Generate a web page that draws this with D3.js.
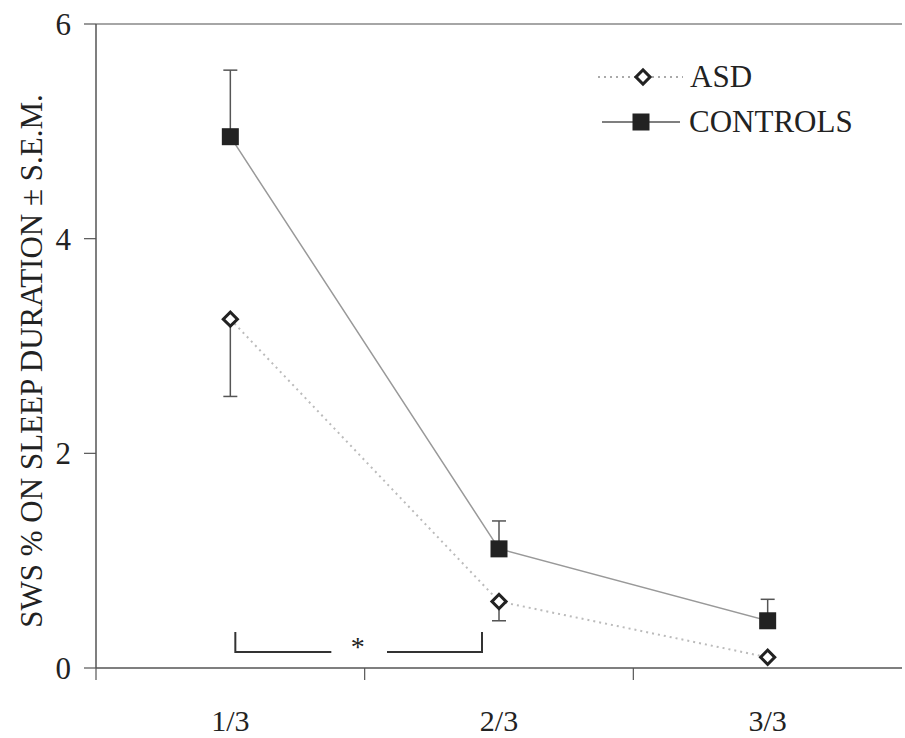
<!DOCTYPE html>
<html>
<head>
<style>
  body { margin: 0; background: #fff; }
</style>
</head>
<body>
<div id="graph_div"></div>
<script src="https://cdn.jsdelivr.net/npm/d3@7"></script>
<script>
// data
var categories = ["1/3", "2/3", "3/3"];
var controlsMean = [4.95, 1.11, 0.44];
var controlsSem  = [0.62, 0.26, 0.20];
var asdMean = [3.25, 0.62, 0.10];
var asdSem  = [0.72, 0.18, 0.0];
var yTicks = [0, 2, 4, 6];

var serif = "'Liberation Serif', 'Times New Roman', serif";

var margin = {top: 24, right: 3, bottom: 70, left: 96},
    width = 905 - margin.left - margin.right,
    height = 738 - margin.top - margin.bottom;

var svg = d3.select("#graph_div").append("svg")
    .attr("width", 905).attr("height", 738)
    .style("font-family", serif)
  .append("g")
    .attr("transform", "translate(" + margin.left + "," + margin.top + ")");

var x = d3.scaleBand().domain(categories).range([0, width]);
var y = d3.scaleLinear().domain([0, 6]).range([height, 0]);
var cx = function(d, i) { return x(categories[i]) + x.bandwidth() / 2; };

// top frame line
svg.append("line")
  .attr("x1", 0).attr("x2", width).attr("y1", 0).attr("y2", 0)
  .attr("stroke", "#888").attr("stroke-width", 1.5);

// x axis
var xAxis = svg.append("g").attr("transform", "translate(0," + height + ")");
xAxis.append("line").attr("x1", 0).attr("x2", width)
  .attr("stroke", "#555").attr("stroke-width", 1.5);
xAxis.selectAll(".tk").data(categories.slice(1)).enter().append("line")
  .attr("x1", function(d) { return x(d); }).attr("x2", function(d) { return x(d); })
  .attr("y1", 0).attr("y2", 12).attr("stroke", "#555").attr("stroke-width", 1.2);
xAxis.append("line").attr("x1", 0).attr("x2", 0).attr("y1", 0).attr("y2", 12)
  .attr("stroke", "#555").attr("stroke-width", 1.2);
xAxis.selectAll(".lb").data(categories).enter().append("text")
  .attr("x", function(d) { return x(d) + x.bandwidth() / 2; })
  .attr("y", 63).attr("text-anchor", "middle").attr("font-size", "30px")
  .attr("font-family", serif).attr("fill", "#222")
  .text(function(d) { return d; });

// y axis
var yAxis = svg.append("g");
yAxis.append("line").attr("x1", 0).attr("x2", 0).attr("y1", 0).attr("y2", height)
  .attr("stroke", "#555").attr("stroke-width", 1.5);
yAxis.selectAll(".tk").data(yTicks).enter().append("line")
  .attr("x1", -12).attr("x2", 0)
  .attr("y1", function(d) { return y(d); }).attr("y2", function(d) { return y(d); })
  .attr("stroke", "#555").attr("stroke-width", 1.2);
yAxis.selectAll(".lb").data(yTicks).enter().append("text")
  .attr("x", -25).attr("y", function(d) { return y(d); })
  .attr("dy", "0.35em").attr("text-anchor", "end").attr("font-size", "31px")
  .attr("font-family", serif).attr("fill", "#222")
  .text(function(d) { return d; });

svg.append("text")
  .attr("transform", "rotate(-90)")
  .attr("x", -(y(0) + y(6)) / 2 - 15).attr("y", -54)
  .attr("text-anchor", "middle").attr("font-size", "31px")
  .attr("font-family", serif).attr("fill", "#222")
  .text("SWS % ON SLEEP DURATION ± S.E.M.");

// lines
var lineGen = d3.line().x(function(d, i) { return cx(d, i); }).y(function(d) { return y(d); });
svg.append("path").datum(asdMean).attr("d", lineGen)
  .attr("fill", "none").attr("stroke", "#bbb").attr("stroke-width", 2)
  .attr("stroke-dasharray", "2,4");
svg.append("path").datum(controlsMean).attr("d", lineGen)
  .attr("fill", "none").attr("stroke", "#999").attr("stroke-width", 1.5);

// error bars: controls up, ASD down
function errBars(mean, sem, dir) {
  var g = svg.append("g");
  mean.forEach(function(m, i) {
    if (sem[i] <= 0) return;
    var x0 = cx(m, i), y0 = y(m), y1 = y(m + dir * sem[i]);
    g.append("line").attr("x1", x0).attr("x2", x0).attr("y1", y0).attr("y2", y1)
      .attr("stroke", "#555").attr("stroke-width", 1.5);
    g.append("line").attr("x1", x0 - 7).attr("x2", x0 + 7).attr("y1", y1).attr("y2", y1)
      .attr("stroke", "#555").attr("stroke-width", 1.5);
  });
}
errBars(controlsMean, controlsSem, 1);
errBars(asdMean, asdSem, -1);

// markers
var sq = 17;
svg.selectAll(".sq").data(controlsMean).enter().append("rect")
  .attr("x", function(d, i) { return cx(d, i) - sq / 2; })
  .attr("y", function(d) { return y(d) - sq / 2; })
  .attr("width", sq).attr("height", sq).attr("fill", "#222");
var diamond = d3.symbol().type(d3.symbolSquare).size(100);
svg.selectAll(".dm").data(asdMean).enter().append("path")
  .attr("d", diamond)
  .attr("transform", function(d, i) { return "translate(" + cx(d, i) + "," + y(d) + ") rotate(45)"; })
  .attr("fill", "#fff").attr("stroke", "#222").attr("stroke-width", 3);

// significance bracket between 1/3 and 2/3
var bx1 = cx(0, 0) + 5, bx2 = cx(0, 1) - 17, by = y(0) - 16;
var br = svg.append("g").attr("stroke", "#333").attr("stroke-width", 2).attr("fill", "none");
br.append("path").attr("d", "M" + bx1 + "," + (by - 20) + "V" + by + "H" + (bx1 + 96));
br.append("path").attr("d", "M" + (bx2 - 95) + "," + by + "H" + bx2 + "V" + (by - 20));
svg.append("text").attr("x", (bx1 + bx2) / 2 - 1).attr("y", by + 4)
  .attr("text-anchor", "middle").attr("font-size", "28px")
  .attr("font-family", serif).attr("fill", "#222").text("*");

// legend
var lg = svg.append("g").attr("transform", "translate(" + (598 - margin.left) + "," + (77 - margin.top) + ")");
lg.append("line").attr("x1", 0).attr("x2", 85).attr("y1", 0).attr("y2", 0)
  .attr("stroke", "#aaa").attr("stroke-width", 2).attr("stroke-dasharray", "2,4");
lg.append("path").attr("d", diamond)
  .attr("transform", "translate(45,0) rotate(45)")
  .attr("fill", "#fff").attr("stroke", "#222").attr("stroke-width", 3);
lg.append("text").attr("x", 92).attr("y", 0).attr("dy", "0.33em")
  .attr("font-size", "31px").attr("font-family", serif).attr("fill", "#222").text("ASD");
lg.append("line").attr("x1", 4).attr("x2", 82).attr("y1", 45).attr("y2", 45)
  .attr("stroke", "#555").attr("stroke-width", 1.5);
lg.append("rect").attr("x", 43 - sq / 2).attr("y", 45 - sq / 2).attr("width", sq).attr("height", sq).attr("fill", "#222");
lg.append("text").attr("x", 91).attr("y", 45).attr("dy", "0.33em")
  .attr("font-size", "31px").attr("font-family", serif).attr("fill", "#222").text("CONTROLS");
</script>
</body>
</html>
